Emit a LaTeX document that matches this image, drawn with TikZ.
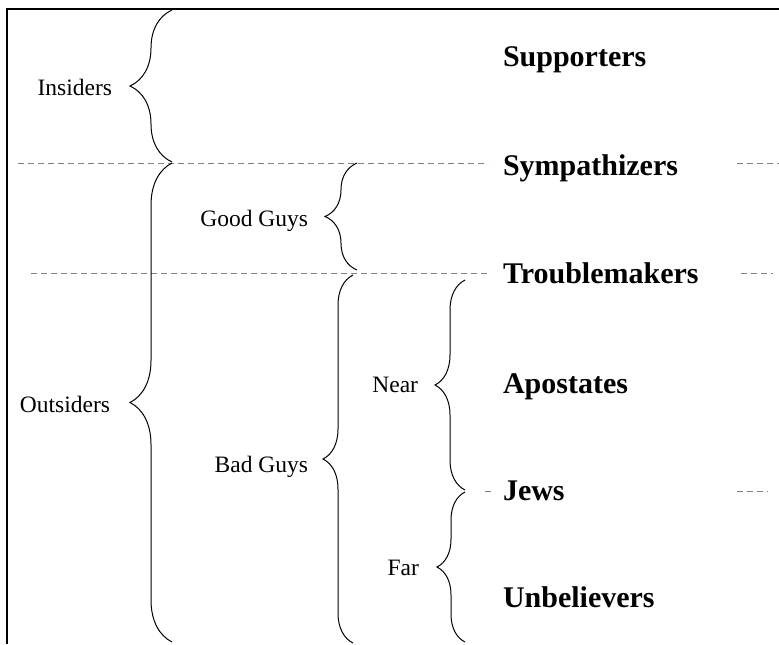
\documentclass[tikz,border=0pt]{standalone}
\usepackage{fontspec}
\setmainfont{Liberation Serif}
\usetikzlibrary{decorations.pathreplacing}
\tikzset{
    every node/.style={inner sep=0pt, outer sep=0pt}
}
\tikzset{
    group/.style={font=\fontsize{11.75}{14}\selectfont, anchor=base east},
    member/.style={font=\fontsize{15}{18}\selectfont\bfseries, anchor=base west},
    guide/.style={draw=gray, dash pattern=on 3pt off 2pt, line width=.5pt},
    curly/.style={decorate, line width=.5pt, decoration={brace, amplitude=#1}},
    curly/.default=15pt
}

\begin{document}
\begin{tikzpicture}[x=0.5pt, y=-0.5pt]
	\useasboundingbox (0,0) rectangle (779,644);
	\draw[line width=1pt] (7,644) -- (7,9) -- (779,9);
	\node[member] (sup) at (503,66) {Supporters};
	\node[member] (sym) at (503,175) {Sympathizers};
	\node[member] (tro) at (503,283) {Troublemakers};
	\node[member] (apo) at (503,393) {Apostates};
	\node[member] (jew) at (503,500) {Jews};
	\node[member] (unb) at (503,607) {Unbelievers};
	\coordinate (g1) at (18,163); \coordinate (h1) at (488,163);
	\coordinate (k1) at (737,163); \coordinate (m1) at (779,163);
	\coordinate (g2) at (31,273); \coordinate (h2) at (488,273);
	\coordinate (k2) at (741,273); \coordinate (m2) at (773,273);
	\coordinate (g3) at (485,491); \coordinate (h3) at (491,491);
	\coordinate (k3) at (737,491); \coordinate (m3) at (768,491);
	\draw[guide] (g1) -- (h1); \draw[guide] (k1) -- (m1);
	\draw[guide] (g2) -- (h2); \draw[guide] (k2) -- (m2);
	\draw[guide] (g3) -- (h3); \draw[guide] (k3) -- (m3);
	\coordinate (ins1) at (172,162); \coordinate (ins2) at (172,10);
	\coordinate (out1) at (172,642); \coordinate (out2) at (172,163);
	\coordinate (good1) at (357,270); \coordinate (good2) at (357,163);
	\coordinate (bad1) at (353,643); \coordinate (bad2) at (353,275);
	\coordinate (near1) at (465,490); \coordinate (near2) at (465,280);
	\coordinate (far1) at (465,642); \coordinate (far2) at (465,492);
	\draw[curly=21pt] (ins1) -- (ins2); \draw[curly=21pt] (out1) -- (out2);
	\draw[curly=16pt] (good1) -- (good2); \draw[curly] (bad1) -- (bad2);
	\draw[curly] (near1) -- (near2); \draw[curly=14pt] (far1) -- (far2);
	\node[group] (ins) at (112,95) {Insiders};
	\node[group] (out) at (110,412) {Outsiders};
	\node[group] (good) at (308,226) {Good Guys};
	\node[group] (bad) at (308,472) {Bad Guys};
	\node[group] (near) at (418,392) {Near};
	\node[group] (far) at (419,575) {Far};
\end{tikzpicture}
\end{document}
